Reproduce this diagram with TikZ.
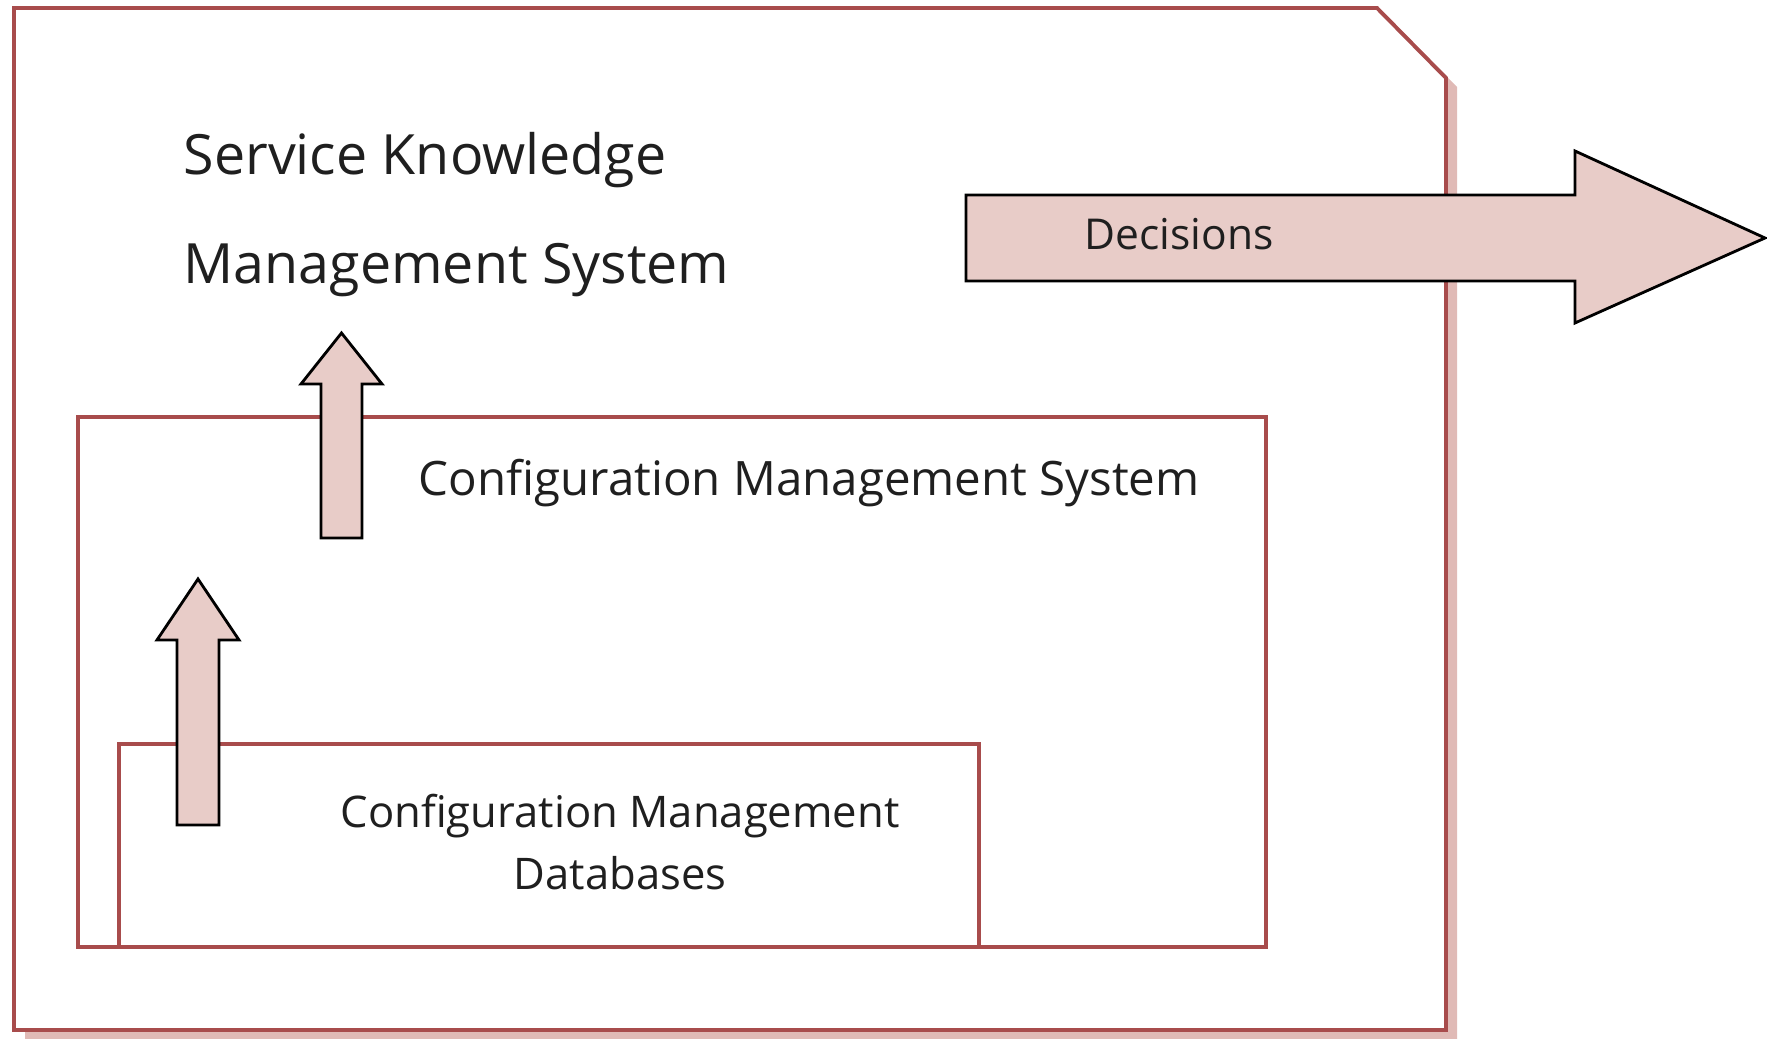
\documentclass[tikz,border=0pt]{standalone}
\usepackage{fontspec}
\setmainfont{Open Sans}
\definecolor{framered}{HTML}{A84C4C}
\definecolor{shadowpink}{HTML}{E0BAB6}
\definecolor{arrowpink}{HTML}{E8CCC8}
\begin{document}
\begin{tikzpicture}[x=0.1mm,y=-0.1mm,
  framebox/.style={draw=framered,line width=1.1pt,fill=white,line join=miter},
  innerbox/.style={draw=framered,line width=0.9pt},
  bigarrow/.style={draw=black,line width=0.8pt,fill=arrowpink,line join=miter},
  every node/.style={inner sep=0pt,text=black!88}]
  \useasboundingbox (0,0) rectangle (1767,1039);
  \fill[shadowpink] (25,17) -- (1388,17) -- (1457,87) -- (1457,1039) -- (25,1039) -- cycle;
  \draw[framebox] (14,8) -- (1377,8) -- (1446,78) -- (1446,1030) -- (14,1030) -- cycle;
  \node[anchor=base west,font=\fontsize{15.8}{19}\selectfont] (skms1) at (183,175) {Service Knowledge};
  \node[anchor=base west,font=\fontsize{15.8}{19}\selectfont] (skms2) at (183,284) {Management System};
  \draw[innerbox] (78,417) rectangle (1266,947);
  \node[anchor=base west,font=\fontsize{13.5}{16}\selectfont] (cms) at (418,496) {Configuration Management System};
  \draw[innerbox] (119,947) -- (119,744) -- (979,744) -- (979,947);
  \node[anchor=base,font=\fontsize{12.4}{15}\selectfont] (cmdb1) at (620,828) {Configuration Management};
  \node[anchor=base,font=\fontsize{12.4}{15}\selectfont] (cmdb2) at (620,890) {Databases};
  \draw[bigarrow] (321,538) -- (321,384) -- (301,384) -- (341.5,333) -- (382,384) -- (362,384) -- (362,538) -- cycle;
  \draw[bigarrow] (177,825) -- (177,640) -- (157,640) -- (198,579) -- (239,640) -- (219,640) -- (219,825) -- cycle;
  \draw[bigarrow] (966,195) -- (1575,195) -- (1575,151) -- (1765,238) -- (1575,323) -- (1575,281) -- (966,281) -- cycle;
  \node[anchor=base west,font=\fontsize{12.1}{15}\selectfont] (decide) at (1084,250) {Decisions};
\end{tikzpicture}
\end{document}
